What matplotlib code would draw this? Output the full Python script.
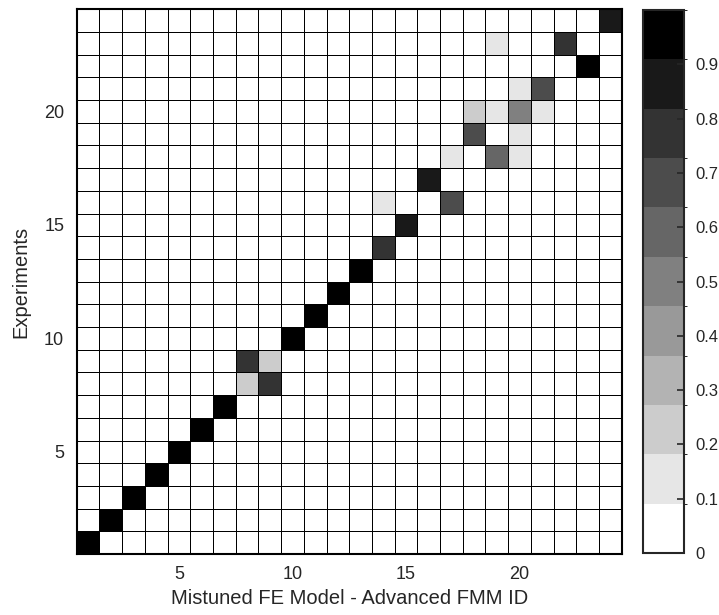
import numpy as np
import matplotlib
matplotlib.use("Agg")
import matplotlib.pyplot as plt
from matplotlib.colors import ListedColormap, BoundaryNorm

plt.rcParams['font.family'] = ['Liberation Sans', 'DejaVu Sans']

N_MODES = 24

# MAC values that are not zero: (FE model mode, experiment mode, value)
cols = [1, 2, 3, 4, 5, 6, 7, 8, 9, 8, 9, 10, 11, 12, 13, 14, 15,
        14, 17, 16, 17, 19, 20, 18, 20, 18, 19, 20, 21, 20, 21, 23, 19, 22, 24]
rows = [1, 2, 3, 4, 5, 6, 7, 8, 8, 9, 9, 10, 11, 12, 13, 14, 15,
        16, 16, 17, 18, 18, 18, 19, 19, 20, 20, 20, 20, 21, 21, 22, 23, 23, 24]
vals = [0.98, 0.98, 0.98, 0.98, 0.98, 0.98, 0.98, 0.22, 0.78, 0.78, 0.22,
        0.98, 0.98, 0.98, 0.98, 0.78, 0.88,
        0.12, 0.68, 0.88, 0.12, 0.60, 0.12, 0.68, 0.12,
        0.22, 0.12, 0.50, 0.12, 0.12, 0.68, 0.98, 0.12, 0.78, 0.88]

axis_ticks = [5, 10, 15, 20]
cbar_ticks = [0, 0.1, 0.2, 0.3, 0.4, 0.5, 0.6, 0.7, 0.8, 0.9]
cbar_labels = ["0", "0.1", "0.2", "0.3", "0.4", "0.5", "0.6", "0.7", "0.8", "0.9"]

mac = np.zeros((N_MODES, N_MODES))
for c, r, v in zip(cols, rows, vals):
    mac[r - 1, c - 1] = v

# 11 grey levels, white at 0 and black at 1
levels = np.linspace(1, 0, 11)
cmap = ListedColormap(np.column_stack([levels, levels, levels]))
norm = BoundaryNorm(np.linspace(0, 1, 12), cmap.N)

fig = plt.figure(figsize=(7.19, 6.15), dpi=100)
ax = fig.add_axes([0.1067, 0.0992, 0.758, 0.8857])

edges = np.arange(0.5, N_MODES + 1, 1)
mesh = ax.pcolormesh(edges, edges, mac, cmap=cmap, norm=norm,
                     edgecolors="black", linewidth=0.55)
ax.set_xlim(0.5, N_MODES + 0.5)
ax.set_ylim(0.5, N_MODES + 0.5)
ax.set_xticks(axis_ticks)
ax.set_yticks(axis_ticks)
ax.tick_params(direction="in", length=0, labelsize=13, pad=9, colors="#262626")
for s in ax.spines.values():
    s.set_linewidth(1.5)
ax.set_xlabel("Mistuned FE Model - Advanced FMM ID", fontsize=14.5, color="#262626")
ax.set_ylabel("Experiments", fontsize=14.5, color="#262626", labelpad=10)

cax = fig.add_axes([0.8939, 0.1008, 0.0574, 0.8829])
cb = fig.colorbar(mesh, cax=cax, ticks=cbar_ticks)
cb.ax.set_yticklabels(cbar_labels)
cb.ax.tick_params(direction="in", length=5, width=1.2, labelsize=12,
                  pad=8, colors="#262626")
cb.outline.set_linewidth(1.5)
cb.outline.set_edgecolor("#262626")

fig.savefig("out.png", dpi=100)
